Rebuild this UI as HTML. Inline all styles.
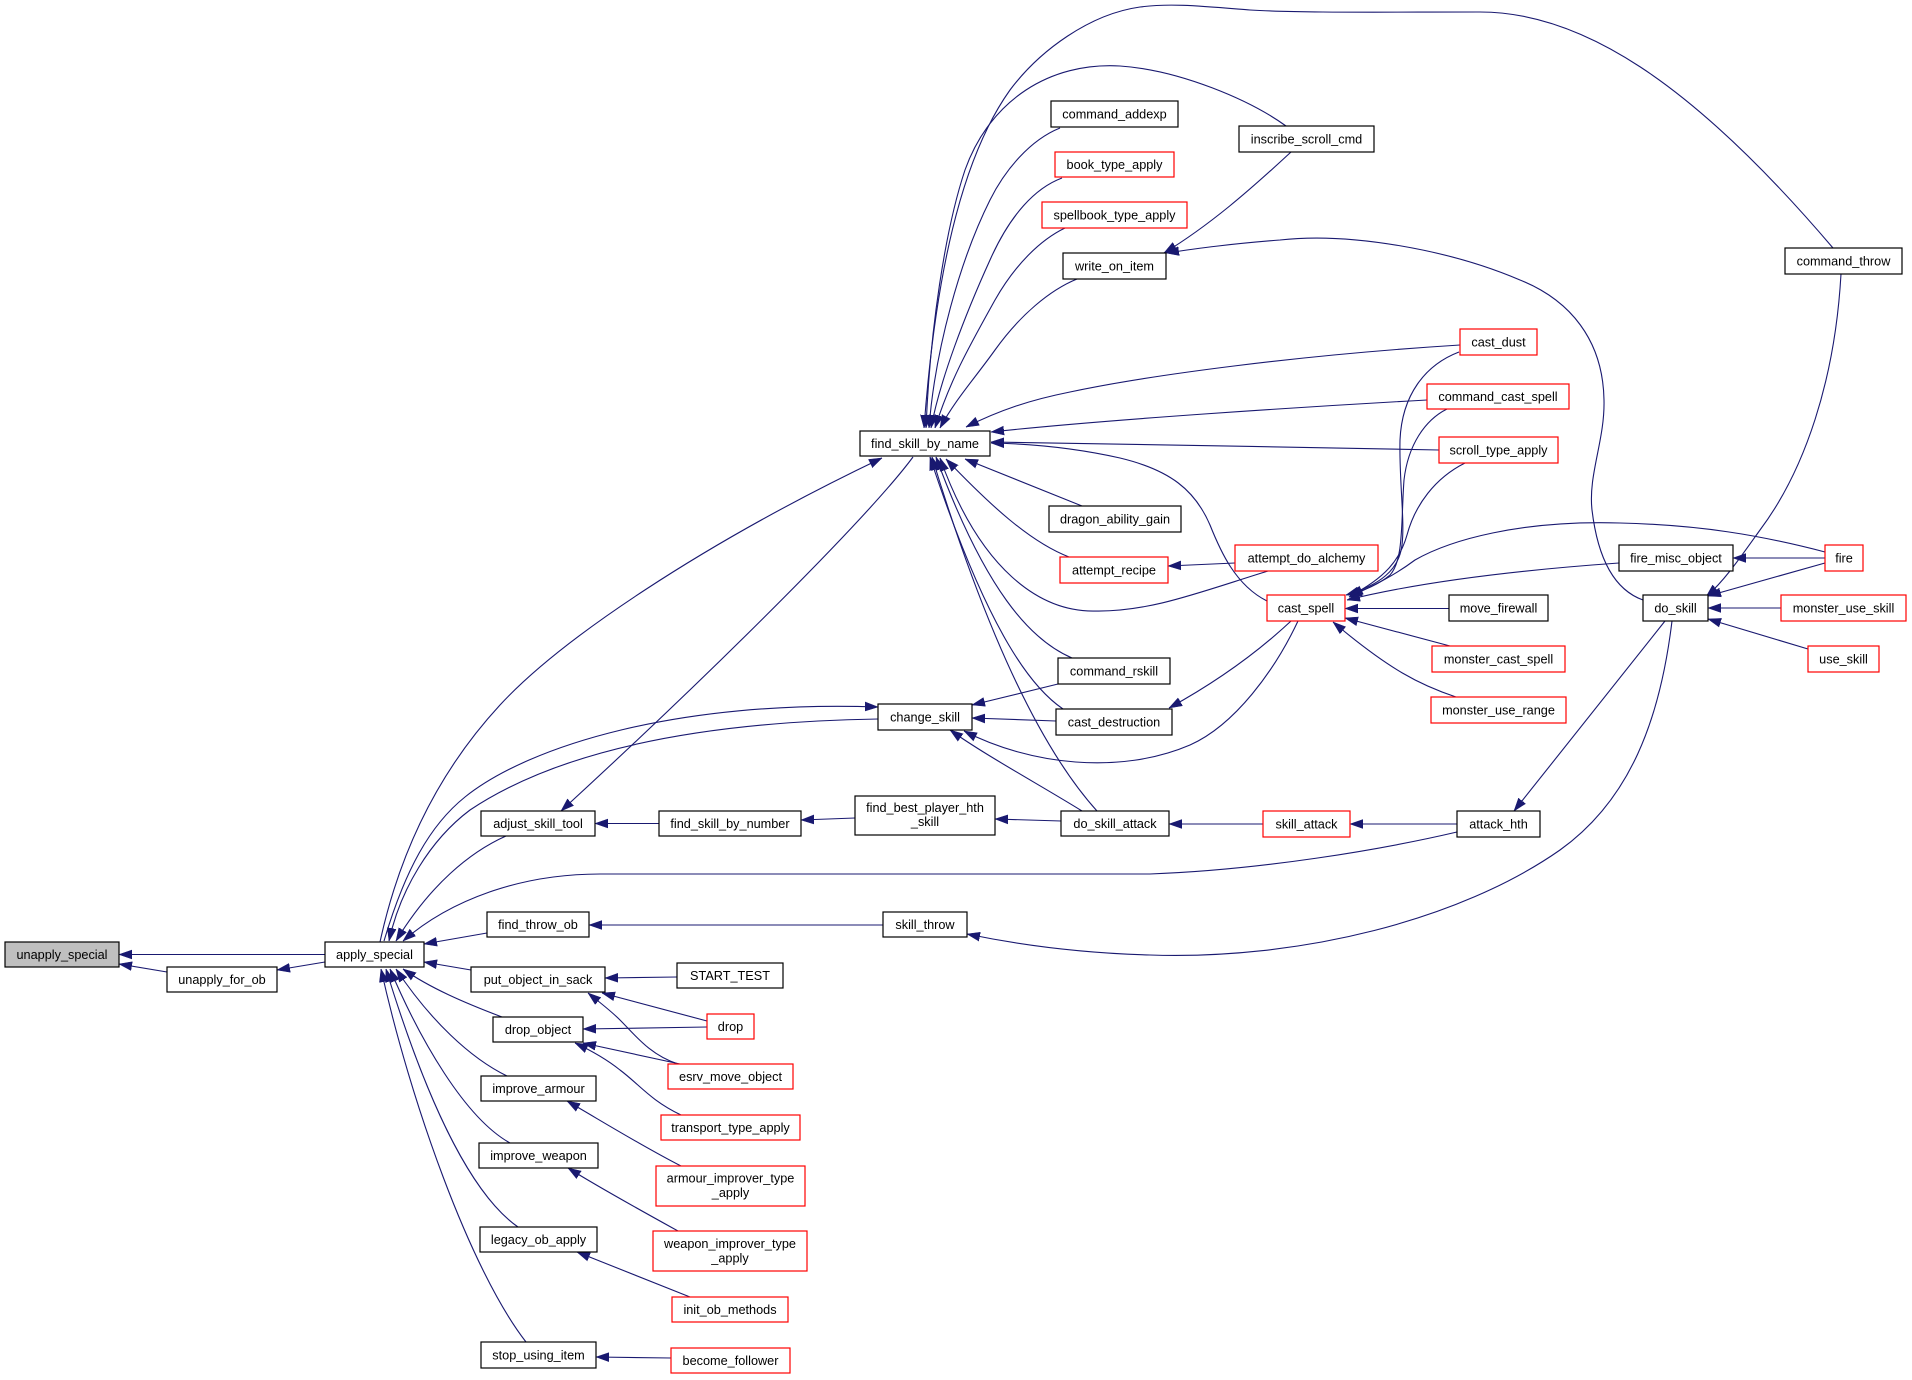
<!DOCTYPE html>
<html><head><meta charset="utf-8"><style>
html,body{margin:0;padding:0;background:#fff;}
svg{display:block;}
text{font-family:"Liberation Sans",Arial,sans-serif;font-size:12.7px;fill:#000;text-anchor:middle;}
.e{fill:none;stroke:#191970;stroke-width:1.1;marker-end:url(#a);}
.n{fill:#fff;stroke:#000;stroke-width:1.2;}
.r{fill:#fff;stroke:#ff0000;stroke-width:1.2;}
</style></head><body>
<svg width="1912" height="1380" viewBox="0 0 1912 1380" xmlns="http://www.w3.org/2000/svg">
<defs><marker id="a" markerUnits="userSpaceOnUse" markerWidth="13" markerHeight="10" viewBox="0 0 13 10" refX="13" refY="5" orient="auto"><path d="M0,0.5 L13,5 L0,9.5 z" fill="#191970" stroke="#191970" stroke-width="0.5"/></marker></defs>
<rect width="1912" height="1380" fill="#fff"/>

<!-- edges -->
<path class="e" d="M325,954.5 L119,954.5"/>
<path class="e" d="M167,972 L119,964"/>
<path class="e" d="M325,962 L277,970"/>
<path class="e" d="M487,933 L424,944"/>
<path class="e" d="M471,970 L424,962"/>
<path class="e" d="M502,1017 C465,1003 430,988 403,969"/>
<path class="e" d="M507,1076 C470,1058 430,1020 396,969"/>
<path class="e" d="M510,1143 C465,1118 420,1040 390,969"/>
<path class="e" d="M518,1227 C465,1190 420,1080 386,969"/>
<path class="e" d="M526,1342 C470,1270 410,1100 381,969"/>
<path class="e" d="M380,942 C400,850 440,770 500,705 C560,640 700,545 882,458"/>
<path class="e" d="M384,941 C405,870 430,825 465,797 C530,745 680,700 878,707"/>
<path class="e" d="M878,719 C700,722 560,750 470,810 C430,840 400,890 389,941"/>
<path class="e" d="M506,836 C470,852 430,885 396,941"/>
<path class="e" d="M1457,832 C1380,850 1260,870 1150,874 L600,874 C520,874 450,900 403,941"/>
<path class="e" d="M883,925 L589,925"/>
<path class="e" d="M1672,621 C1660,720 1630,800 1560,850 C1460,920 1300,960 1150,955 C1080,953 1020,945 967,934"/>
<path class="e" d="M1665,621 L1514,811"/>
<path class="e" d="M1457,824 L1350,824"/>
<path class="e" d="M1263,824 L1169,824"/>
<path class="e" d="M1061,821 L995,819"/>
<path class="e" d="M855,818 L801,820"/>
<path class="e" d="M659,823.5 L595,823.5"/>
<path class="e" d="M913,457 C870,515 720,665 561,811"/>
<path class="e" d="M1058,684 L972,705"/>
<path class="e" d="M1056,721 L972,718"/>
<path class="e" d="M1082,811 C1040,785 985,755 950,730"/>
<path class="e" d="M1298,621 C1275,670 1235,725 1190,745 C1120,775 1030,765 964,731"/>
<path class="e" d="M1291,621 C1260,650 1220,680 1169,708"/>
<path class="e" d="M1097,811 C1060,770 1000,680 932,457"/>
<path class="e" d="M1063,709 C1035,690 990,640 930,457"/>
<path class="e" d="M1072,658 C1030,640 985,590 936,457"/>
<path class="e" d="M1268,571 C1200,592 1150,612 1095,611 C1040,612 980,570 940,458"/>
<path class="e" d="M1069,557 C1030,542 990,505 946,459"/>
<path class="e" d="M1082,506 L965,459"/>
<path class="e" d="M1267,601 C1235,585 1220,550 1210,525 C1195,490 1170,470 1120,458 C1080,449 1040,444 991,443"/>
<path class="e" d="M1439,450 C1300,447 1100,444 991,442"/>
<path class="e" d="M1427,400 C1300,407 1100,420 991,432"/>
<path class="e" d="M1460,345 C1300,355 1150,375 1070,392 C1030,400 1000,410 966,427"/>
<path class="e" d="M1077,279 C1050,290 1020,315 995,350 C975,378 955,400 940,428"/>
<path class="e" d="M1065,228 C1040,240 1015,265 995,300 C970,345 950,380 935,428"/>
<path class="e" d="M1062,178 C1035,188 1010,215 990,260 C965,315 940,380 931,428"/>
<path class="e" d="M1060,128 C1030,140 1005,170 990,200 C960,260 935,350 929,428"/>
<path class="e" d="M1286,126 C1250,100 1180,70 1120,66 C1050,62 990,100 965,170 C945,230 930,330 926,428"/>
<path class="e" d="M1833,248 C1690,80 1580,12 1480,12 C1380,12 1300,13 1250,10 C1200,6 1170,3 1140,7 C1090,14 1040,50 1010,90 C960,160 935,280 924,428"/>
<path class="e" d="M1291,152 C1250,190 1210,225 1164,253"/>
<path class="e" d="M1643,600 C1615,590 1598,560 1592,510 C1588,475 1605,440 1604,400 C1603,340 1570,300 1520,280 C1450,250 1350,232 1280,240 C1230,244 1200,248 1166,253"/>
<path class="e" d="M1459,352 C1425,365 1402,395 1400,440 C1399,480 1405,520 1402,545 C1399,570 1380,585 1346,595"/>
<path class="e" d="M1447,409 C1425,420 1408,445 1404,480 C1401,520 1404,560 1390,575 C1378,585 1365,590 1348,595"/>
<path class="e" d="M1465,463 C1435,478 1415,505 1407,535 C1400,560 1385,578 1350,596"/>
<path class="e" d="M1825,552 C1760,535 1700,525 1620,523 C1520,520 1450,540 1415,560 C1395,575 1375,585 1349,597"/>
<path class="e" d="M1619,563 C1520,570 1420,582 1347,600"/>
<path class="e" d="M1449,608.5 L1345,608.5"/>
<path class="e" d="M1450,646 L1345,618"/>
<path class="e" d="M1456,697 C1420,685 1390,670 1333,622"/>
<path class="e" d="M1235,563 L1168,566"/>
<path class="e" d="M1825,558 L1733,558"/>
<path class="e" d="M1825,563 L1708,596"/>
<path class="e" d="M1841,274 C1835,380 1805,470 1760,530 C1740,558 1725,580 1706,597"/>
<path class="e" d="M1781,608 L1708,608"/>
<path class="e" d="M1808,649 L1708,619"/>
<path class="e" d="M707,1021 L602,993"/>
<path class="e" d="M678,1064 C650,1055 635,1035 620,1020 C610,1010 598,1001 588,993"/>
<path class="e" d="M707,1027 L583,1029"/>
<path class="e" d="M680,1064 L583,1043"/>
<path class="e" d="M681,1115 C650,1100 640,1085 620,1070 C605,1058 590,1050 575,1043"/>
<path class="e" d="M677,977 L605,978"/>
<path class="e" d="M681,1166 C640,1145 600,1120 567,1101"/>
<path class="e" d="M678,1231 C640,1210 600,1188 568,1168"/>
<path class="e" d="M690,1297 L577,1252"/>
<path class="e" d="M671,1358 L596,1357"/>

<!-- nodes -->
<rect x="5" y="942" width="114" height="25" fill="#bfbfbf" stroke="#000" stroke-width="1.2"/><text x="62" y="959">unapply_special</text>
<rect class="n" x="167" y="967" width="110" height="25"/><text x="222" y="984">unapply_for_ob</text>
<rect class="n" x="325" y="942" width="99" height="25"/><text x="374.5" y="959">apply_special</text>
<rect class="n" x="860" y="431" width="130" height="25"/><text x="925" y="448">find_skill_by_name</text>
<rect class="n" x="878" y="704" width="94" height="26"/><text x="925" y="721.5">change_skill</text>
<rect class="n" x="481" y="811" width="114" height="25"/><text x="538" y="828">adjust_skill_tool</text>
<rect class="n" x="659" y="811" width="142" height="25"/><text x="730" y="828">find_skill_by_number</text>
<rect class="n" x="855" y="796" width="140" height="39"/><text x="925" y="812">find_best_player_hth</text><text x="925" y="826">_skill</text>
<rect class="n" x="1061" y="811" width="108" height="25"/><text x="1115" y="828">do_skill_attack</text>
<rect class="n" x="487" y="912" width="102" height="25"/><text x="538" y="929">find_throw_ob</text>
<rect class="n" x="883" y="912" width="84" height="25"/><text x="925" y="929">skill_throw</text>
<rect class="n" x="471" y="967" width="134" height="25"/><text x="538" y="984">put_object_in_sack</text>
<rect class="n" x="677" y="963" width="106" height="25"/><text x="730" y="980">START_TEST</text>
<rect class="r" x="707" y="1014" width="47" height="25"/><text x="730.5" y="1031">drop</text>
<rect class="n" x="493" y="1017" width="90" height="25"/><text x="538" y="1034">drop_object</text>
<rect class="r" x="668" y="1064" width="125" height="25"/><text x="730.5" y="1081">esrv_move_object</text>
<rect class="r" x="661" y="1115" width="139" height="25"/><text x="730.5" y="1132">transport_type_apply</text>
<rect class="n" x="481" y="1076" width="115" height="25"/><text x="538.5" y="1093">improve_armour</text>
<rect class="r" x="656" y="1166" width="149" height="40"/><text x="730.5" y="1182.5">armour_improver_type</text><text x="730.5" y="1197">_apply</text>
<rect class="n" x="479" y="1143" width="119" height="25"/><text x="538.5" y="1160">improve_weapon</text>
<rect class="r" x="653" y="1231" width="154" height="40"/><text x="730" y="1248">weapon_improver_type</text><text x="730" y="1262.5">_apply</text>
<rect class="n" x="480" y="1227" width="117" height="25"/><text x="538.5" y="1244">legacy_ob_apply</text>
<rect class="r" x="672" y="1297" width="116" height="25"/><text x="730" y="1314">init_ob_methods</text>
<rect class="n" x="481" y="1342" width="115" height="26"/><text x="538.5" y="1359.5">stop_using_item</text>
<rect class="r" x="671" y="1348" width="119" height="25"/><text x="730.5" y="1365">become_follower</text>
<rect class="n" x="1051" y="101" width="127" height="26"/><text x="1114.5" y="118.5">command_addexp</text>
<rect class="r" x="1055" y="152" width="119" height="25"/><text x="1114.5" y="169">book_type_apply</text>
<rect class="r" x="1042" y="202" width="145" height="26"/><text x="1114.5" y="219.5">spellbook_type_apply</text>
<rect class="n" x="1063" y="253" width="103" height="26"/><text x="1114.5" y="270.5">write_on_item</text>
<rect class="n" x="1239" y="126" width="135" height="26"/><text x="1306.5" y="143.5">inscribe_scroll_cmd</text>
<rect class="n" x="1785" y="248" width="117" height="26"/><text x="1843.5" y="265.5">command_throw</text>
<rect class="r" x="1460" y="329" width="77" height="26"/><text x="1498.5" y="346.5">cast_dust</text>
<rect class="r" x="1427" y="384" width="142" height="25"/><text x="1498" y="401">command_cast_spell</text>
<rect class="r" x="1439" y="437" width="119" height="26"/><text x="1498.5" y="454.5">scroll_type_apply</text>
<rect class="n" x="1049" y="506" width="132" height="26"/><text x="1115" y="523.5">dragon_ability_gain</text>
<rect class="r" x="1060" y="557" width="108" height="26"/><text x="1114" y="574.5">attempt_recipe</text>
<rect class="r" x="1235" y="545" width="143" height="26"/><text x="1306.5" y="562.5">attempt_do_alchemy</text>
<rect class="r" x="1267" y="595" width="78" height="26"/><text x="1306" y="612.5">cast_spell</text>
<rect class="n" x="1449" y="595" width="99" height="26"/><text x="1498.5" y="612.5">move_firewall</text>
<rect class="r" x="1432" y="646" width="133" height="26"/><text x="1498.5" y="663.5">monster_cast_spell</text>
<rect class="r" x="1431" y="697" width="135" height="26"/><text x="1498.5" y="714.5">monster_use_range</text>
<rect class="n" x="1619" y="545" width="114" height="26"/><text x="1676" y="562.5">fire_misc_object</text>
<rect class="r" x="1825" y="545" width="38" height="26"/><text x="1844" y="562.5">fire</text>
<rect class="n" x="1643" y="595" width="65" height="26"/><text x="1675.5" y="612.5">do_skill</text>
<rect class="r" x="1781" y="595" width="125" height="26"/><text x="1843.5" y="612.5">monster_use_skill</text>
<rect class="r" x="1808" y="646" width="71" height="26"/><text x="1843.5" y="663.5">use_skill</text>
<rect class="n" x="1058" y="658" width="112" height="26"/><text x="1114" y="675.5">command_rskill</text>
<rect class="n" x="1056" y="709" width="116" height="26"/><text x="1114" y="726.5">cast_destruction</text>
<rect class="r" x="1263" y="811" width="87" height="26"/><text x="1306.5" y="828.5">skill_attack</text>
<rect class="n" x="1457" y="811" width="83" height="26"/><text x="1498.5" y="828.5">attack_hth</text>
</svg>
</body></html>
